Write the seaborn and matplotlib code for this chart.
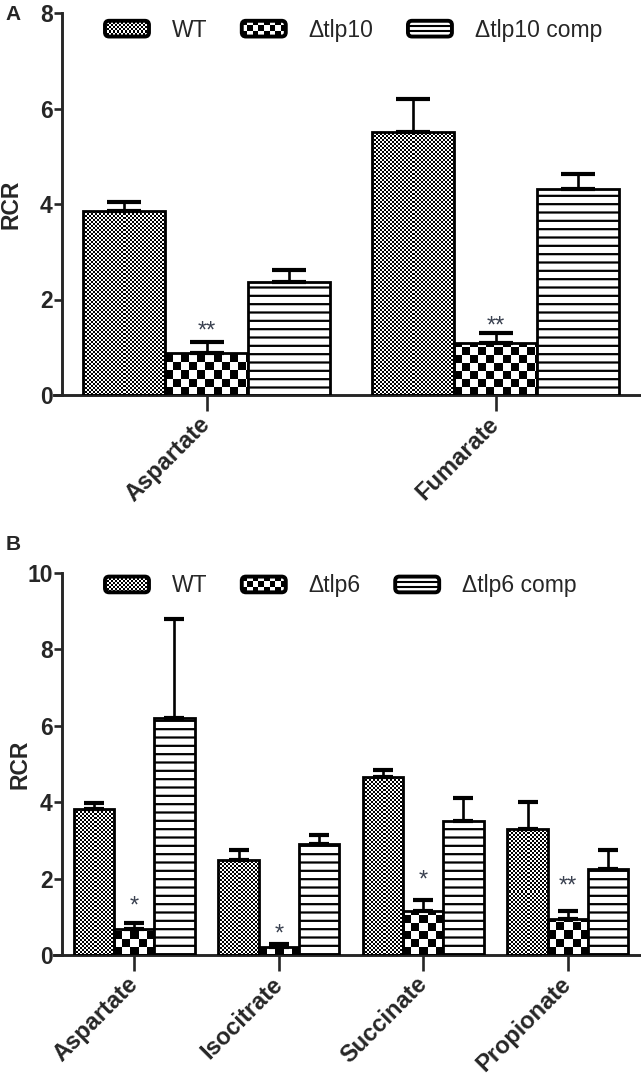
import numpy as np
import pandas as pd
import seaborn as sns
import matplotlib.pyplot as plt
from matplotlib.patches import FancyBboxPatch, Rectangle
from matplotlib.lines import Line2D
from matplotlib.legend_handler import HandlerBase

# ############### Data ###############
# Panel A
a_categories = ['Aspartate', 'Fumarate']
a_strains = ['WT', 'Δtlp10', 'Δtlp10 comp']
a_wt = [3.85, 5.5]
a_wt_err = [0.2, 0.7]
a_ko = [0.88, 1.08]
a_ko_err = [0.22, 0.22]
a_comp = [2.37, 4.32]
a_comp_err = [0.25, 0.3]
a_sig = ['**', '**']

# Panel B
b_categories = ['Aspartate', 'Isocitrate', 'Succinate', 'Propionate']
b_strains = ['WT', 'Δtlp6', 'Δtlp6 comp']
b_wt = [3.82, 2.5, 4.65, 3.3]
b_wt_err = [0.15, 0.25, 0.2, 0.7]
b_ko = [0.68, 0.22, 1.15, 0.95]
b_ko_err = [0.15, 0.08, 0.3, 0.2]
b_comp = [6.2, 2.9, 3.5, 2.25]
b_comp_err = [2.6, 0.25, 0.6, 0.5]
b_sig = ['*', '*', '*', '**']

sns.set_style('ticks')
plt.rcParams['font.family'] = ['Liberation Sans', 'DejaVu Sans']
plt.rcParams['hatch.linewidth'] = 1.6
plt.rcParams['hatch.color'] = 'black'

STAR_COLOR = '#3a4150'


def checker(ax, patch, cell):
    # checkerboard texture clipped to a bar, cell size in pixels
    (x0, y0), (x1, y1) = patch.get_bbox().get_points()
    px0, py0 = ax.transData.transform((x0, y0))
    px1, py1 = ax.transData.transform((x1, y1))
    w = max(int(round(px1 - px0)), 1)
    h = max(int(round(py1 - py0)), 1)
    jj, ii = np.meshgrid(np.arange(w), np.arange(h))
    arr = ((ii // cell + jj // cell) % 2).astype(float)
    im = ax.imshow(arr, cmap='gray', vmin=0, vmax=1, extent=(x0, x1, y0, y1),
                   origin='lower', interpolation='nearest', aspect='auto', zorder=2)
    im.set_clip_path(patch)


class PatternHandler(HandlerBase):
    def __init__(self, kind, cell=1.5):
        super().__init__()
        self.kind = kind
        self.cell = cell

    def create_artists(self, legend, orig_handle, xdescent, ydescent,
                       width, height, fontsize, trans):
        x0, y0 = -xdescent, -ydescent
        style = 'round,pad=0,rounding_size=3'
        bg = FancyBboxPatch((x0, y0), width, height, boxstyle=style,
                            fc='white', ec='none', transform=trans)
        arts = [bg]
        if self.kind == 'checker':
            c = self.cell
            nx, ny = int(np.ceil(width / c)), int(np.ceil(height / c))
            for i in range(nx):
                for j in range(ny):
                    if (i + j) % 2 == 0:
                        r = Rectangle((x0 + i * c, y0 + j * c), c, c, fc='black',
                                      lw=0, transform=trans)
                        r.set_clip_path(bg)
                        arts.append(r)
        else:
            for f in (1 / 3, 2 / 3):
                arts.append(Line2D([x0, x0 + width], [y0 + f * height] * 2,
                                   color='black', lw=1.5, transform=trans))
        edge = FancyBboxPatch((x0, y0), width, height, boxstyle=style,
                              fc='none', ec='black', lw=2.8, transform=trans)
        arts.append(edge)
        return arts


def draw_panel(ax, categories, strains, means, errs, sig, ymax, px_per_unit,
               width, capsize, coarse, star_off, leg_y):
    df = pd.DataFrame({
        'category': np.tile(categories, len(strains)),
        'strain': np.repeat(strains, len(categories)),
        'value': np.concatenate(means),
    })
    sns.barplot(data=df, x='category', y='value', hue='strain', order=categories,
                hue_order=strains, palette={s: 'white' for s in strains},
                width=width, errorbar=None, edgecolor='black', linewidth=2.0,
                legend=False, ax=ax)
    left = -0.5 - 8 / px_per_unit
    ax.set_xlim(left, len(categories) - 0.5)
    ax.set_ylim(0, ymax)

    bars = sorted(ax.patches, key=lambda p: p.get_x())
    for k, p in enumerate(bars):
        ci, si = k // 3, k % 3
        p.set_zorder(3)
        if si == 0:
            p.set_facecolor('none')
            checker(ax, p, 2)
        elif si == 1:
            p.set_facecolor('none')
            checker(ax, p, coarse)
        else:
            p.set_hatch('--')
        xc = p.get_x() + p.get_width() / 2
        top = means[si][ci]
        ax.errorbar(xc, top, yerr=[[0], [errs[si][ci]]], fmt='none', ecolor='black',
                    elinewidth=1.9, capsize=capsize, capthick=3, zorder=4)
        if si == 1:
            ax.annotate(sig[ci], (xc, top + errs[si][ci]), xytext=(0, star_off[ci]),
                        textcoords='offset points', ha='center', va='baseline',
                        fontsize=17, color=STAR_COLOR, zorder=5)

    ax.set_xlim(left, len(categories) - 0.5)
    ax.set_ylim(0, ymax)
    ax.set_yticks(np.arange(0, ymax + 1, 2))
    sns.despine(ax=ax)
    ax.spines['left'].set_position(('data', -0.5))
    for s in ('left', 'bottom'):
        ax.spines[s].set_linewidth(2.1)
    ax.tick_params(axis='y', length=5.8, width=1.9, labelsize=16.5, pad=1)
    ax.tick_params(axis='x', length=11.5, width=1.9, labelsize=17, pad=7)
    for lbl in ax.get_yticklabels():
        lbl.set_fontweight('bold')
    ax.set_xticks(range(len(categories)))
    ax.set_xticklabels(categories, rotation=45, ha='right', va='center',
                       rotation_mode='anchor', fontweight='bold')
    ax.set_xlabel('')
    ax.set_ylabel('RCR', fontsize=16.5, fontweight='bold')

    handles = [Rectangle((0, 0), 1, 1) for _ in strains]
    hmap = {handles[0]: PatternHandler('checker', 1.45),
            handles[1]: PatternHandler('checker', 4.0),
            handles[2]: PatternHandler('lines')}
    ax.legend(handles, strains, handler_map=hmap, ncol=3, loc='center left',
              bbox_to_anchor=(0.087, leg_y), frameon=False, fontsize=16.5,
              borderpad=0, borderaxespad=0, handlelength=1.92, handleheight=0.68,
              handletextpad=1.0, columnspacing=1.5)


fig = plt.figure(figsize=(6.41, 10.79), dpi=100)
ax_a = fig.add_axes([54 / 641, 1 - 395 / 1079, 586 / 641, 382 / 1079])
ax_b = fig.add_axes([54 / 641, 1 - 955 / 1079, 586 / 641, 382 / 1079])

draw_panel(ax_a, a_categories, a_strains, [a_wt, a_ko, a_comp],
           [a_wt_err, a_ko_err, a_comp_err], a_sig, 8, 288, 0.854, 12, 8,
           [3.6, 0.5], 0.955)
draw_panel(ax_b, b_categories, b_strains, [b_wt, b_ko, b_comp],
           [b_wt_err, b_ko_err, b_comp_err], b_sig, 10, 144, 0.835, 7, 8,
           [8, 2, 9.4, 13], 0.966)

ax_a.yaxis.set_label_coords(-0.053, 0.5)
ax_b.yaxis.set_label_coords(-0.038, 0.5)

fig.text(13 / 641, 1 - 15 / 1079, 'A', fontsize=15, fontweight='bold', ha='center', va='center')
fig.text(13 / 641, 1 - 544 / 1079, 'B', fontsize=15, fontweight='bold', ha='center', va='center')

fig.savefig('out.png', dpi=100)
